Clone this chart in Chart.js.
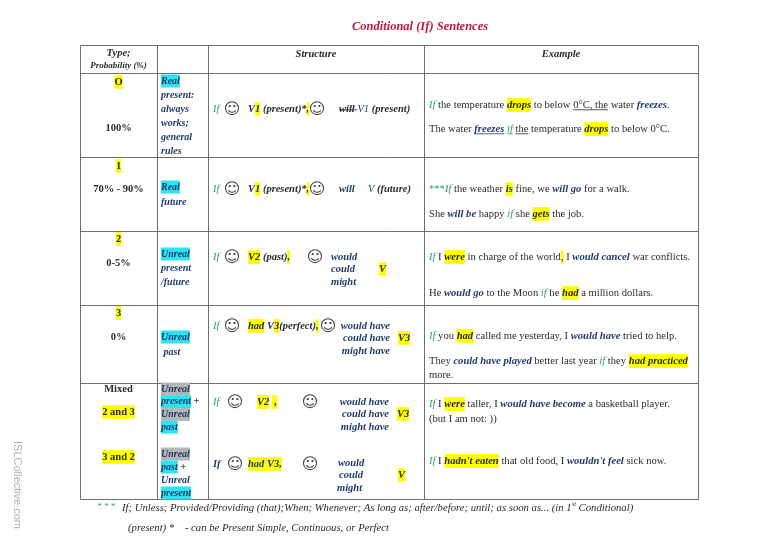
<!DOCTYPE html>
<html>
<head>
<meta charset="utf-8">
<title>Conditional (If) Sentences</title>
<script src="https://cdn.jsdelivr.net/npm/chart.js@4.4.1/dist/chart.umd.min.js"></script>
<style>
  html, body { margin: 0; padding: 0; background: #fff; }
  #wrap { width: 766px; height: 542px; }
</style>
</head>
<body>
<div id="wrap"><canvas id="sheet" width="766" height="542"></canvas></div>
<script>
"use strict";

// Texts of the table. Markup: {codes:text}
// b bold, p not bold, i italic, o upright, n navy, g green, k dark,
// y/c/s yellow/cyan/silver highlight, u underline, x strike, f face, e superscript
const title = 'Conditional (If) Sentences';
const headers = ['Type;', 'Probability (%)', 'Structure', 'Example'];

const typeLabels = [
    ['{y:O}', '100%'],
    ['{y:1}', '70% - 90%'],
    ['{y:2}', '0-5%'],
    ['{y:3}', '0%'],
    ['Mixed', '{y:2 and 3}'],
    ['{y:3 and 2}']
];

const usageLines = [
    ['{c:Real}', 'present:', 'always', 'works;', 'general', 'rules'],
    ['{c:Real}', 'future'],
    ['{c:Unreal}', 'present', '/future'],
    ['{c:Unreal}', ' past'],
    ['{s:Unreal}', '{c:present} +', '{s:Unreal}', '{c:past}'],
    ['{s:Unreal}', '{c:past} +', 'Unreal', '{c:present}']
];

const structureParts = [
    ['{gp:If}', '{f:\u263A}', 'V{y:1} (present)*{y:,}', '{f:\u263A}', '{x:will }{np:V1} (present)'],
    ['{gp:If}', '{f:\u263A}', 'V{y:1} (present)*{y:,}', '{f:\u263A}', '{n:will}', '{np:V} (future)'],
    ['{gp:If}', '{f:\u263A}', '{y:V2} (past){y:,}', '{f:\u263A}', '{n:would}', '{n:could}', '{n:might}', '{y:V}'],
    ['{gp:If}', '{f:\u263A}', '{y:had} V{y:3}(perfect){y:,}', '{f:\u263A}', '{n:would have}', '{n:could have}', '{n:might have}', '{y:V3}'],
    ['{gp:If}', '{f:\u263A}', '{y:V2} {y: ,}', '{f:\u263A}', '{n:would have}', '{n:could have}', '{n:might have}', '{y:V3}'],
    ['{n:If}', '{f:\u263A}', '{ny:had V3,}', '{f:\u263A}', '{n:would}', '{n:could}', '{n:might}', '{y:V}']
];

const exampleLines = [
    ['{gi:If} the temperature {biy:drops} to below {u:0\u00B0C, the} water {bin:freezes}.',
     'The water {binu:freezes} {giu:if} {u:the} temperature {biy:drops} to below 0\u00B0C.'],
    ['{g:***}{gi:If} the weather {biy:is} fine, we {bin:will go} for a walk.',
     'She {bin:will be} happy {gi:if} she {biy:gets} the job.'],
    ['{gi:If} I {biy:were} in charge of the world{y:,} I {bin:would cancel} war conflicts.',
     'He {bin:would go} to the Moon {gi:if} he {biy:had} a million dollars.'],
    ['{gi:If} you {biy:had} called me yesterday, I {bin:would have} tried to help.',
     'They {bin:could have played} better last year {gi:if} they {biy:had practiced}',
     'more.'],
    ['{gi:If} I {biy:were} taller, I {bin:would have become} a basketball player.',
     '(but I am not: ))'],
    ['{gi:If} I {biy:hadn\'t eaten} that old food, I {bin:wouldn\'t feel} sick now.']
];

const footnotes = [
    '{g:* * *}',
    'If; Unless; Provided/Providing (that);When; Whenever; As long as; after/before; until; as soon as... (in 1{e:st} Conditional)',
    '(present) *    - can be Present Simple, Continuous, or Perfect'
];
const watermark = 'ISLCollective.com';

// Layout (sheet units)
const colEdges = [80, 157, 208, 424, 698];
const rowEdges = [45, 72.5, 157, 231, 305, 383, 499];
const typeX = 118.5;
const typeAt = [[82, 128], [166, 189], [239, 263], [313, 337], [389, 412], [457]];
const usageX = 161;
const usageAt = [[81, 14], [187, 15], [254, 14], [337, 15], [389, 12.7], [454, 13]];
const structAt = [
    [[213, 109], [232, 109, 'c'], [248, 109], [317, 109, 'c'], [339, 109]],
    [[213, 189], [232, 189, 'c'], [248, 189], [317, 189, 'c'], [339, 189], [368, 189]],
    [[213, 257], [232, 257, 'c'], [248, 257], [315, 257, 'c'], [331, 257], [331, 269], [331, 282], [379, 269]],
    [[213, 326], [232, 326, 'c'], [248, 326], [328, 326, 'c'], [390, 326, 'r'], [390, 338, 'r'], [390, 351, 'r'], [398, 338]],
    [[213, 402], [235, 402, 'c'], [257, 402], [310, 402, 'c'], [389, 402, 'r'], [389, 414, 'r'], [389, 427, 'r'], [397, 414]],
    [[213, 464], [235, 464, 'c'], [248, 464], [310, 464, 'c'], [338, 463], [339, 475], [337, 488], [398, 475]]
];
const exampleX = 429;
const exampleAt = [[105, 129], [189, 214], [257, 293], [336, 361, 375], [404, 419], [461]];
const footAt = [[97, 507, 9], [122, 508, 10.7], [128, 528, 10.7]];

const colors = {
    k: '#2b2b2b', n: '#1f3a6e', g: '#2f9e75', r: '#c0183c',
    y: '#ffff00', c: '#2de3f2', s: '#b5b5b5', line: '#6e6e6e'
};

function applyCodes(base, codes) {
    const st = Object.assign({}, base);
    for (const ch of codes) {
        if (ch === 'b') st.b = true;
        else if (ch === 'p') st.b = false;
        else if (ch === 'i') st.i = true;
        else if (ch === 'o') st.i = false;
        else if (ch === 'n' || ch === 'g' || ch === 'k' || ch === 'r') st.c = ch;
        else if (ch === 'y' || ch === 'c' || ch === 's') st.bg = ch;
        else if (ch === 'u') st.u = true;
        else if (ch === 'x') st.x = true;
        else if (ch === 'f') st.f = true;
        else if (ch === 'e') st.e = true;
    }
    return st;
}

function parseRuns(str, base) {
    const runs = [];
    const re = /\{([a-z]+):([^}]*)\}|([^{]+)/g;
    let m;
    while ((m = re.exec(str))) {
        if (m[3]) runs.push({ text: m[3], st: Object.assign({}, base) });
        else runs.push({ text: m[2], st: applyCodes(base, m[1]) });
    }
    return runs;
}

function fontOf(st) {
    if (st.f) return '16px "DejaVu Sans"';
    const size = st.e ? st.size * 0.6 : st.size;
    return (st.i ? 'italic ' : '') + (st.b ? 'bold ' : '') + size + 'px "Liberation Serif", "Times New Roman", serif';
}

function drawRich(ctx, markup, base, x, y, align) {
    const runs = parseRuns(markup, base);
    let total = 0;
    runs.forEach(function (r) {
        ctx.font = fontOf(r.st);
        r.w = ctx.measureText(r.text).width;
        total += r.w;
    });
    if (align === 'c') x -= total / 2;
    else if (align === 'r') x -= total;
    runs.forEach(function (r) {
        const st = r.st, size = st.size;
        const yy = st.e ? y - size * 0.35 : y;
        if (st.bg) {
            ctx.fillStyle = colors[st.bg];
            ctx.fillRect(x, y - size * 0.65, r.w, size * 1.3);
        }
        ctx.font = fontOf(st);
        ctx.fillStyle = st.f ? '#444' : colors[st.c];
        ctx.fillText(r.text, x, st.f ? y + 0.5 : yy);
        ctx.strokeStyle = colors[st.c];
        ctx.lineWidth = 0.8;
        if (st.u) {
            ctx.beginPath();
            ctx.moveTo(x, y + size * 0.45);
            ctx.lineTo(x + r.w, y + size * 0.45);
            ctx.stroke();
        }
        if (st.x) {
            ctx.beginPath();
            ctx.moveTo(x, y + size * 0.08);
            ctx.lineTo(x + r.w, y + size * 0.08);
            ctx.stroke();
        }
        x += r.w;
    });
}

// Table plugin: draws grid and text through the chart's scales
const tablePlugin = {
    id: 'conditionalTable',
    afterDraw: function (chart) {
        const ctx = chart.ctx;
        const sx = chart.scales.x, sy = chart.scales.y;
        const X = function (v) { return sx.getPixelForValue(v); };
        const Y = function (v) { return sy.getPixelForValue(v); };
        const crisp = function (p) { return Math.round(p) + 0.5; };

        ctx.save();
        ctx.textBaseline = 'middle';

        // grid
        ctx.strokeStyle = colors.line;
        ctx.lineWidth = 1;
        ctx.beginPath();
        colEdges.forEach(function (c) {
            ctx.moveTo(crisp(X(c)), crisp(Y(rowEdges[0])));
            ctx.lineTo(crisp(X(c)), crisp(Y(rowEdges[rowEdges.length - 1])));
        });
        rowEdges.forEach(function (r) {
            ctx.moveTo(crisp(X(colEdges[0])), crisp(Y(r)));
            ctx.lineTo(crisp(X(colEdges[colEdges.length - 1])), crisp(Y(r)));
        });
        ctx.stroke();

        // title and headers
        drawRich(ctx, title, { size: 12.5, b: true, i: true, c: 'r' }, X(420), Y(27), 'c');
        const head = { size: 10.5, b: true, i: true, c: 'k' };
        drawRich(ctx, headers[0], head, X(typeX), Y(53), 'c');
        drawRich(ctx, headers[1], Object.assign({}, head, { size: 9 }), X(typeX), Y(66), 'c');
        drawRich(ctx, headers[2], head, X((colEdges[2] + colEdges[3]) / 2), Y(54), 'c');
        drawRich(ctx, headers[3], head, X((colEdges[3] + colEdges[4]) / 2), Y(54), 'c');

        // type / probability
        typeLabels.forEach(function (lines, i) {
            lines.forEach(function (t, j) {
                drawRich(ctx, t, { size: 10.5, b: true, i: false, c: 'k' }, X(typeX), Y(typeAt[i][j]), 'c');
            });
        });

        // usage
        usageLines.forEach(function (lines, i) {
            lines.forEach(function (t, j) {
                const y = usageAt[i][0] + j * usageAt[i][1];
                drawRich(ctx, t, { size: 10, b: true, i: true, c: 'n' }, X(usageX), Y(y), 'l');
            });
        });

        // structure
        structureParts.forEach(function (parts, i) {
            parts.forEach(function (t, j) {
                const p = structAt[i][j];
                drawRich(ctx, t, { size: 10.5, b: true, i: true, c: 'k' }, X(p[0]), Y(p[1]), p[2] || 'l');
            });
        });

        // examples
        exampleLines.forEach(function (lines, i) {
            lines.forEach(function (t, j) {
                drawRich(ctx, t, { size: 10.6, b: false, i: false, c: 'k' }, X(exampleX), Y(exampleAt[i][j]), 'l');
            });
        });

        // footnotes
        footnotes.forEach(function (t, i) {
            const p = footAt[i];
            drawRich(ctx, t, { size: p[2], b: false, i: true, c: 'k' }, X(p[0]), Y(p[1]), 'l');
        });

        // watermark
        ctx.translate(X(17), Y(485));
        ctx.rotate(Math.PI / 2);
        ctx.font = '11px "Liberation Sans", Arial, sans-serif';
        ctx.fillStyle = '#b0b0b0';
        ctx.textAlign = 'center';
        ctx.fillText(watermark, 0, 0);
        ctx.restore();
    }
};

const ctx = document.getElementById('sheet').getContext('2d');
const sheet = new Chart(ctx, {
    type: 'scatter',
    data: { datasets: [{ data: [] }] },
    options: {
        responsive: false,
        animation: false,
        events: [],
        layout: { padding: 0 },
        plugins: { legend: { display: false }, tooltip: { enabled: false } },
        scales: {
            x: { type: 'linear', min: 0, max: 766, display: false },
            y: { type: 'linear', min: 0, max: 542, reverse: true, display: false }
        }
    },
    plugins: [tablePlugin]
});
</script>
</body>
</html>
